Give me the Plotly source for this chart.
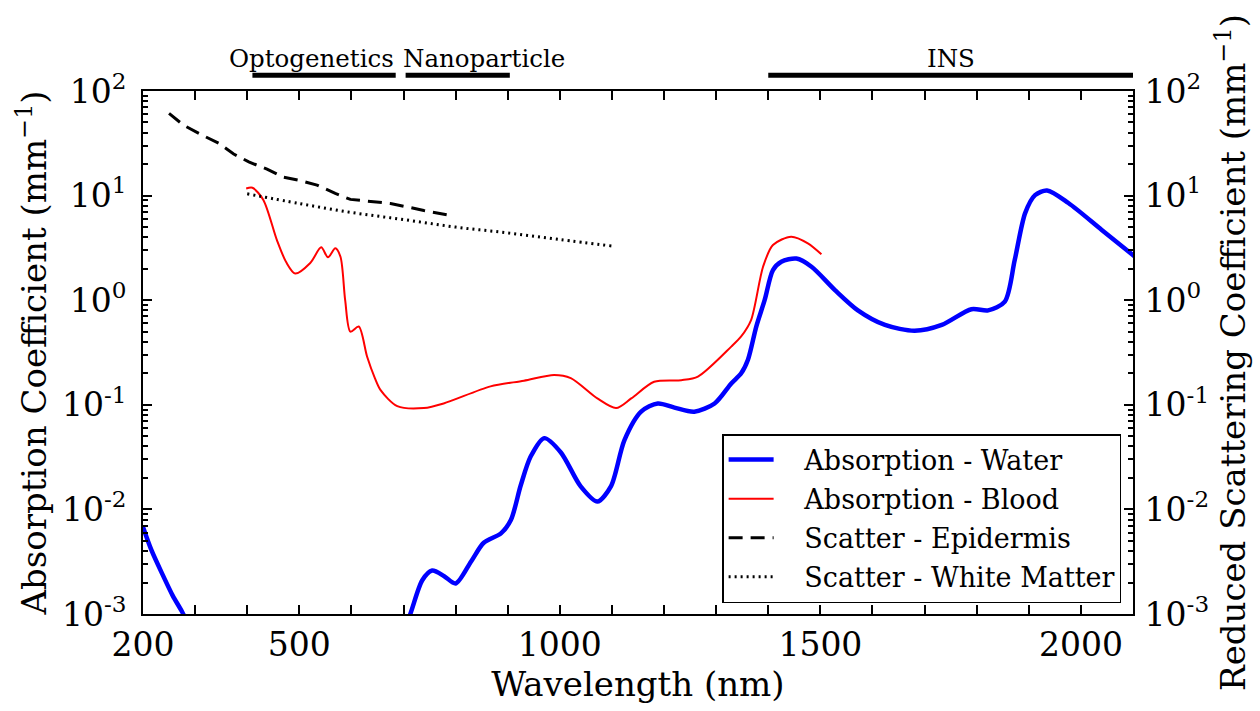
import plotly.graph_objects as go

# ---------------- data ----------------
water_nm = [200, 216, 239, 257, 275, 300, 400, 500, 600, 700, 713, 736, 755, 778, 800,
            830, 854, 887, 906, 925, 944, 970, 1002, 1040, 1072, 1098, 1124, 1156, 1188,
            1220, 1258, 1297, 1329, 1348, 1361, 1377, 1393, 1409, 1425, 1454, 1483, 1528,
            1572, 1624, 1681, 1733, 1790, 1822, 1854, 1873, 1893, 1912, 1935, 1976, 2040, 2104]
water_abs = [0.0068, 0.0041, 0.0023, 0.0015, 0.00105, 0.0006, 0.00015, 0.0001, 0.0002, 0.0007,
             0.001, 0.0021, 0.0026, 0.0023, 0.00196, 0.0032, 0.0048, 0.0059, 0.0079, 0.017,
             0.032, 0.048, 0.035, 0.0166, 0.0119, 0.0166, 0.046, 0.086, 0.103, 0.094, 0.086,
             0.103, 0.16, 0.2, 0.27, 0.56, 1.0, 1.94, 2.33, 2.5, 2.09, 1.25, 0.80, 0.58,
             0.51, 0.58, 0.82, 0.80, 0.97, 2.42, 6.8, 10.1, 11.2, 8.5, 4.7, 2.6]

blood_nm = [398, 410, 431, 457, 475, 492, 521, 542, 555, 569, 579, 588, 598, 614, 630,
            645, 656, 688, 739, 777, 867, 931, 989, 1021, 1072, 1108, 1137, 1181, 1233,
            1265, 1329, 1348, 1367, 1390, 1409, 1444, 1476, 1502]
blood_abs = [11.7, 11.9, 9.1, 3.76, 2.3, 1.8, 2.27, 3.2, 2.57, 3.13, 2.6, 1.0, 0.50, 0.56,
             0.29, 0.18, 0.138, 0.097, 0.093, 0.103, 0.15, 0.17, 0.193, 0.18, 0.115, 0.093,
             0.115, 0.166, 0.172, 0.186, 0.36, 0.45, 0.645, 2.09, 3.37, 4.05, 3.5, 2.75]

epi_nm = [250, 278, 313, 345, 374, 403, 438, 470, 502, 534, 569, 598, 637, 675, 707, 739, 787]
epi_scatter = [61, 47, 38, 31.7, 25, 21, 17.9, 15, 13.9, 12.6, 10.5, 9.2, 8.8, 8.4, 7.8, 7.2, 6.5]

wm_nm = [400, 500, 600, 700, 800, 900, 1000, 1100]
wm_scatter = [10.4, 8.4, 6.9, 5.9, 5.0, 4.4, 3.8, 3.3]

series_names = ["Absorption - Water", "Absorption - Blood",
                "Scatter - Epidermis", "Scatter - White Matter"]

band_names = ["Optogenetics", "Nanoparticle", "INS"]
band_start = [410, 704, 1400]
band_end = [685, 904, 2100]
band_label_x = [523, 855, 1750]

x_ticks = [200, 500, 1000, 1500, 2000]
y_ticks = [1e-3, 1e-2, 1e-1, 1e0, 1e1, 1e2]
y_tick_text = ["10<sup>-3</sup>", "10<sup>-2</sup>", "10<sup>-1</sup>",
               "10<sup>0</sup>", "10<sup>1</sup>", "10<sup>2</sup>"]

# ---------------- figure ----------------
FONT = "DejaVu Serif"
PAD = "\u00a0\u00a0\u00a0"  # gap between legend sample and label
fig = go.Figure()

fig.add_trace(go.Scatter(x=water_nm, y=water_abs, mode="lines", name=PAD + series_names[0],
                         legendgroup="a",
                         line=dict(color="#0000ff", width=4.5, shape="spline", smoothing=0.8)))
fig.add_trace(go.Scatter(x=blood_nm, y=blood_abs, mode="lines", name=PAD + series_names[1],
                         legendgroup="b",
                         line=dict(color="#ff0000", width=2, shape="spline", smoothing=0.8)))
fig.add_trace(go.Scatter(x=epi_nm, y=epi_scatter, mode="lines", name=PAD + series_names[2],
                         yaxis="y2", legendgroup="c",
                         line=dict(color="black", width=3, dash="14px,8px")))
fig.add_trace(go.Scatter(x=wm_nm, y=wm_scatter, mode="lines", name=PAD + series_names[3],
                         yaxis="y2", legendgroup="d",
                         line=dict(color="black", width=3, dash="2px,4px", shape="spline")))

# bands above the plot
for name, s, e, lx in zip(band_names, band_start, band_end, band_label_x):
    fig.add_shape(type="line", xref="x", yref="paper", x0=s, x1=e, y0=1.03, y1=1.03,
                  line=dict(color="black", width=5))
    fig.add_annotation(x=lx, y=1.062, xref="x", yref="paper", text=name, showarrow=False,
                       yanchor="middle", font=dict(family=FONT, size=24.5, color="black"))

minor_x = [v for v in range(200, 2101, 100) if v not in x_ticks]
minor_y = [m * 10.0 ** d for d in range(-3, 2) for m in range(2, 10)]

axis_common = dict(showgrid=False, zeroline=False, linecolor="black", linewidth=2,
                   ticks="inside", tickcolor="black", tickwidth=1.5,
                   tickfont=dict(family=FONT, size=33, color="black"))

fig.update_layout(
    width=1260, height=711,
    margin=dict(l=143, r=127, t=91, b=97),
    paper_bgcolor="white", plot_bgcolor="white",
    font=dict(family=FONT, color="black"),
    xaxis=dict(range=[200, 2100], tickvals=x_ticks, ticklen=9, showline=True,
               mirror="allticks",
               minor=dict(tickvals=minor_x, ticks="inside", ticklen=5, tickcolor="black"),
               title=dict(text="Wavelength (nm)", font=dict(family=FONT, size=34), standoff=6),
               **axis_common),
    yaxis=dict(type="log", range=[-3, 2], tickvals=y_ticks, ticktext=y_tick_text, ticklen=9,
               showline=True, mirror=True, ticklabelstandoff=8,
               minor=dict(tickvals=minor_y, ticks="inside", ticklen=5, tickcolor="black"),
               title=dict(text="Absorption Coefficient (mm<sup>−1</sup>)",
                          font=dict(family=FONT, size=34), standoff=5),
               **axis_common),
    yaxis2=dict(type="log", range=[-3, 2], tickvals=y_ticks, ticktext=y_tick_text, ticklen=9,
                overlaying="y", side="right", showline=True, ticklabelstandoff=3,
                minor=dict(tickvals=minor_y, ticks="inside", ticklen=5, tickcolor="black"),
                title=dict(text="Reduced Scattering Coefficient (mm<sup>−1</sup>)",
                           font=dict(family=FONT, size=34), standoff=10),
                **axis_common),
    legend=dict(x=0.988, y=0.021, xanchor="right", yanchor="bottom",
                bgcolor="white", bordercolor="black", borderwidth=1.5,
                font=dict(family=FONT, size=27, color="black"),
                itemwidth=45, tracegroupgap=1),
    showlegend=True,
)

fig.write_html("out.html", config={"displayModeBar": False},
               post_script="document.body.style.margin='0px';")
